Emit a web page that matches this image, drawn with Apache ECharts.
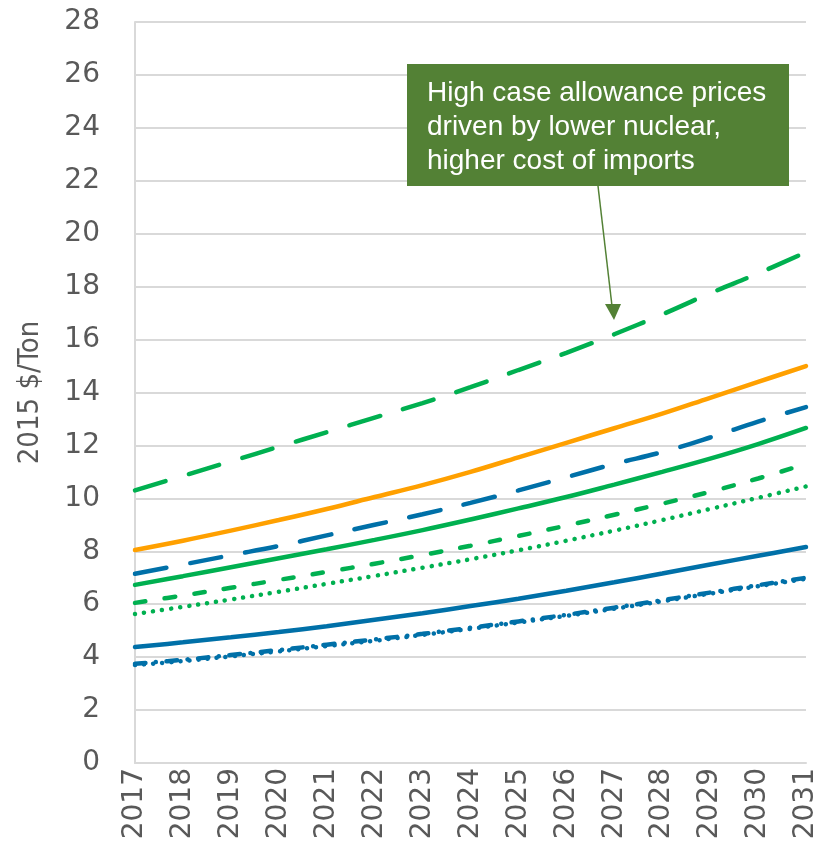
<!DOCTYPE html>
<html>
<head>
<meta charset="utf-8">
<script src="https://cdn.jsdelivr.net/npm/echarts@6/dist/echarts.min.js"></script>
<style>
  html, body { margin: 0; padding: 0; background: #fff; }
  #chart { width: 819px; height: 849px; }
</style>
</head>
<body>
<div id="chart"></div>
<script>
var years = ['2017','2018','2019','2020','2021','2022','2023','2024','2025','2026','2027','2028','2029','2030','2031'];

var highGreenDash  = [10.3, 10.85, 11.4, 11.95, 12.5, 13.05, 13.6, 14.2, 14.85, 15.5, 16.2, 16.95, 17.75, 18.5, 19.3];
var orangeSolid    = [8.05, 8.4, 8.78, 9.18, 9.6, 10.05, 10.5, 11.0, 11.55, 12.1, 12.65, 13.2, 13.8, 14.4, 15.0];
var blueLongDash   = [7.15, 7.5, 7.85, 8.2, 8.6, 9.0, 9.4, 9.83, 10.3, 10.8, 11.3, 11.75, 12.3, 12.9, 13.45];
var greenSolid     = [6.73, 7.06, 7.4, 7.74, 8.08, 8.43, 8.8, 9.2, 9.62, 10.05, 10.52, 11.0, 11.5, 12.05, 12.66];
var greenShortDash = [6.05, 6.33, 6.62, 6.92, 7.22, 7.53, 7.86, 8.21, 8.58, 8.97, 9.38, 9.8, 10.25, 10.75, 11.3];
var greenDotted    = [5.63, 5.9, 6.18, 6.47, 6.77, 7.07, 7.38, 7.7, 8.04, 8.4, 8.78, 9.18, 9.6, 10.02, 10.45];
var blueSolid      = [4.38, 4.56, 4.75, 4.95, 5.17, 5.41, 5.66, 5.93, 6.21, 6.51, 6.83, 7.16, 7.5, 7.83, 8.16];
var blueDashDot    = [3.75, 3.9, 4.08, 4.27, 4.47, 4.67, 4.88, 5.11, 5.35, 5.6, 5.87, 6.15, 6.44, 6.72, 7.0];
var blueDotted     = [3.7, 3.85, 4.03, 4.22, 4.42, 4.62, 4.84, 5.07, 5.31, 5.56, 5.83, 6.11, 6.4, 6.68, 6.96];

var yTicks = [0, 28, 2]; // min, max, step
var noteLines = ['High case allowance prices', 'driven by lower nuclear,', 'higher cost of imports'];

var GREEN = '#00b050', BLUE = '#0070a8', ORANGE = '#ffa000';

function line(name, data, color, type) {
    return {
        name: name,
        type: 'line',
        data: data,
        symbol: 'none',
        smooth: 0.4,
        lineStyle: { color: color, width: 4.5, type: type, cap: 'round' }
    };
}

var myChart = echarts.init(document.getElementById('chart'));
var option = {
    animation: false,
    grid: { left: 135, right: 13, top: 22, bottom: 86, containLabel: false, outerBoundsMode: 'none' },
    xAxis: {
        type: 'category',
        data: years,
        boundaryGap: false,
        axisLine: { lineStyle: { color: '#d9d9d9', width: 2 } },
        axisTick: { show: false },
        axisLabel: { rotate: 90, margin: 5, color: '#595959', fontFamily: 'DejaVu Sans', fontSize: 28 }
    },
    yAxis: {
        type: 'value',
        min: yTicks[0], max: yTicks[1], interval: yTicks[2],
        name: '2015 $/Ton',
        nameLocation: 'middle',
        nameGap: 90,
        nameTextStyle: { color: '#595959', fontFamily: 'DejaVu Sans Condensed', fontSize: 29 },
        axisLine: { show: true, lineStyle: { color: '#d9d9d9', width: 2 } },
        axisTick: { show: false },
        splitLine: { lineStyle: { color: '#d9d9d9', width: 2 } },
        axisLabel: { margin: 35, color: '#595959', fontFamily: 'DejaVu Sans', fontSize: 28 }
    },
    series: [
        line('High', highGreenDash, GREEN, [32, 24]),
        line('Orange', orangeSolid, ORANGE, 'solid'),
        line('Blue dash', blueLongDash, BLUE, [32, 24]),
        line('Green', greenSolid, GREEN, 'solid'),
        line('Green dash', greenShortDash, GREEN, [10.5, 19.5]),
        line('Green dot', greenDotted, GREEN, [0.1, 9]),
        line('Blue', blueSolid, BLUE, 'solid'),
        line('Blue dash-dot', blueDashDot, BLUE, [10.5, 10.5, 0.1, 10.5]),
        line('Blue dot', blueDotted, BLUE, [0.1, 9])
    ],
    graphic: [
        { type: 'rect', shape: { x: 407, y: 64, width: 382, height: 122 }, style: { fill: '#538135' }, z: 100 },
        { type: 'text', x: 427, y: 76, z: 101,
          style: { text: noteLines.join('\n'), fill: '#fff', font: '28px "Liberation Sans"', lineHeight: 34 } },
        { type: 'line', shape: { x1: 598, y1: 186, x2: 612, y2: 306 }, style: { stroke: '#538135', lineWidth: 1.5 }, z: 100 },
        { type: 'polygon', shape: { points: [[605, 304], [621, 304], [614, 320]] }, style: { fill: '#538135' }, z: 100 }
    ]
};
myChart.setOption(option);
</script>
</body>
</html>
